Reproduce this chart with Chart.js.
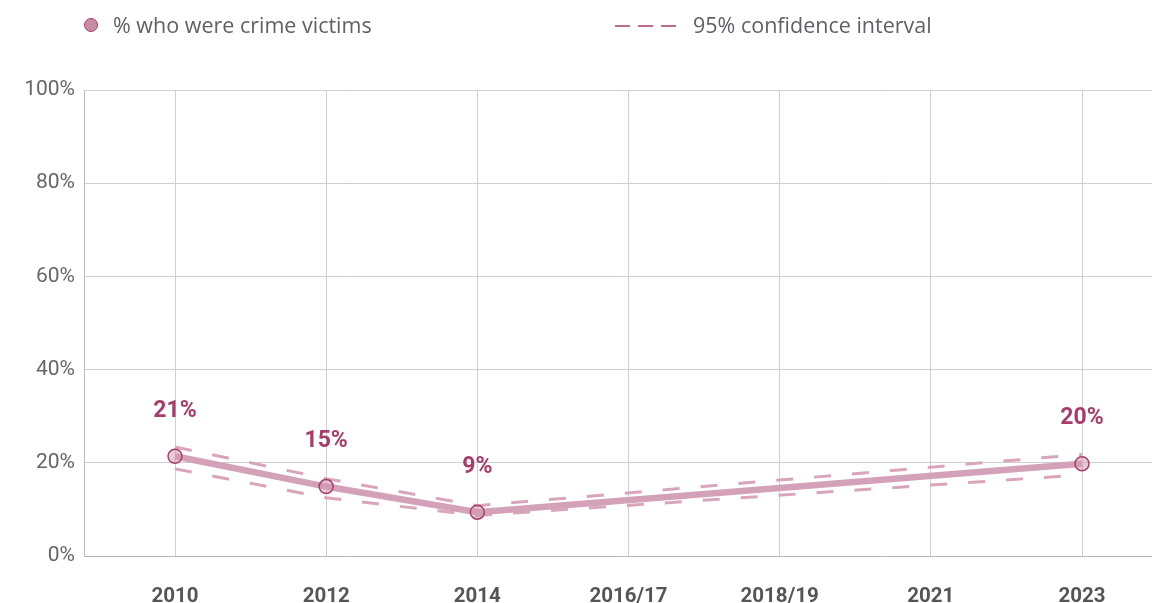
<!DOCTYPE html>
<html>
<head>
<meta charset="utf-8">
<script src="https://cdn.jsdelivr.net/npm/chart.js@4.4.1/dist/chart.umd.min.js"></script>
<style>
  html, body { margin: 0; padding: 0; background: #fff; }
  #wrap { position: relative; width: 1152px; height: 603px; }
  #c { position: absolute; left: 0; top: 0; }
  .leg { position: absolute; font-family: "Open Sans", sans-serif; font-size: 21.5px; color: #5f6068; white-space: nowrap; line-height: 1; }
  .dot { position: absolute; width: 12px; height: 12px; border-radius: 50%; background: #c98aa6; border: 1.5px solid #a83d6b; }
</style>
</head>
<body>
<div id="wrap">
  <canvas id="c" width="1152" height="603"></canvas>
  <div class="dot" style="left:84px; top:18px;"></div>
  <div class="leg" style="left:113px; top:14px;">% who were crime victims</div>
  <svg style="position:absolute; left:612px; top:20px;" width="68" height="12">
    <line x1="3" y1="6" x2="65" y2="6" stroke="#a83d6b" stroke-width="1.5" stroke-dasharray="15,8"/>
  </svg>
  <div class="leg" style="left:693px; top:14px;">95% confidence interval</div>
</div>
<script>
const categories = ["2010", "2012", "2014", "2016/17", "2018/19", "2021", "2023"];
const victims = [21.4, 14.9, 9.4, null, null, null, 19.8];
const ciUpper = [23.4, 16.6, 10.8, null, null, null, 21.8];
const ciLower = [18.7, 12.5, 8.7, null, null, null, 17.4];
const yTicks = [0, 20, 40, 60, 80, 100];

const toXY = arr => arr.map((v, i) => ({ x: i, y: v }));

const labelPlugin = {
  id: 'valueLabels',
  afterDatasetsDraw(chart) {
    const meta = chart.getDatasetMeta(2);
    const ctx = chart.ctx;
    ctx.save();
    ctx.font = 'bold 23px Roboto';
    ctx.fillStyle = '#a83d6b';
    ctx.textAlign = 'center';
    ctx.textBaseline = 'middle';
    meta.data.forEach((el, i) => {
      const v = victims[i];
      if (v == null) return;
      ctx.fillText(Math.round(v) + '%', el.x, el.y - 45);
    });
    ctx.restore();
  }
};

new Chart(document.getElementById('c'), {
  type: 'line',
  data: {
    datasets: [
      { label: 'upper', data: toXY(ciUpper), borderColor: '#d9a5bc', borderWidth: 3, borderDash: [17, 21], pointRadius: 0, spanGaps: true, fill: false, order: 2 },
      { label: 'lower', data: toXY(ciLower), borderColor: '#d9a5bc', borderWidth: 3, borderDash: [17, 21], pointRadius: 0, spanGaps: true, fill: false, order: 2 },
      { label: '% who were crime victims', data: toXY(victims), borderColor: '#d4a2b8', borderWidth: 6.5, spanGaps: true,
        pointRadius: 7, pointBorderWidth: 1.5, pointBackgroundColor: 'rgba(205,150,175,0.5)', pointBorderColor: '#a83d6b', fill: false, order: 1 }
    ]
  },
  options: {
    responsive: false,
    animation: false,
    layout: { autoPadding: false, padding: { top: 90, right: 0, left: 0, bottom: 0 } },
    plugins: { legend: { display: false }, tooltip: { enabled: false } },
    scales: {
      x: {
        type: 'linear',
        min: -0.602,
        max: 6.463,
        afterBuildTicks(axis) { axis.ticks = categories.map((_, i) => ({ value: i })); },
        afterFit(axis) { axis.height = 47; },
        grid: { color: '#cfcfcf', lineWidth: 1, drawTicks: false },
        border: { display: false },
        ticks: {
          padding: 29,
          autoSkip: false,
          maxRotation: 0,
          color: '#555',
          font: { family: 'Roboto', size: 20.5, weight: 'bold' },
          callback: v => categories[v] ?? ''
        }
      },
      y: {
        min: 0,
        max: 100,
        afterBuildTicks(axis) { axis.ticks = yTicks.map(v => ({ value: v })); },
        afterFit(axis) { axis.width = 84; },
        grid: { color: ctx => ctx.tick && ctx.tick.value === 0 ? '#b5b5b5' : '#cfcfcf', lineWidth: 1, drawTicks: false },
        border: { display: true, color: '#bdbdbd', width: 1 },
        ticks: {
          padding: 9,
          color: '#666',
          font: { family: 'Roboto', size: 21 },
          callback: v => v + '%'
        }
      }
    }
  },
  plugins: [labelPlugin]
});
</script>
</body>
</html>
